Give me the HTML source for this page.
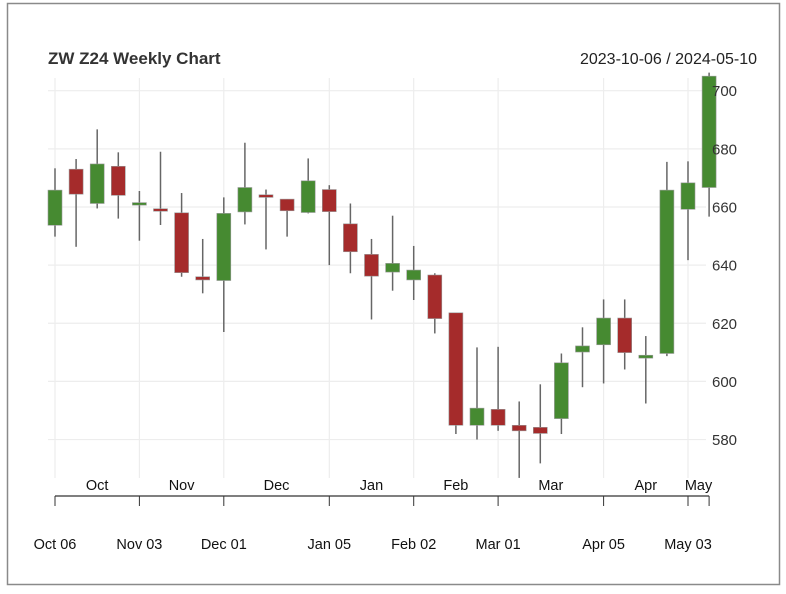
<!DOCTYPE html>
<html><head><meta charset="utf-8"><style>
body{margin:0;background:#fff;}
svg{display:block;font-family:"Liberation Sans",sans-serif;}
</style></head><body>
<svg id="chart" width="786" height="594" viewBox="0 0 786 594" xmlns="http://www.w3.org/2000/svg">
<rect x="7.5" y="3.5" width="772" height="581" fill="#fff" stroke="#8a8a8a" stroke-width="1.5"/>
<text x="48" y="64" font-size="17" font-weight="bold" fill="#333">ZW Z24 Weekly Chart</text>
<text x="757" y="64" font-size="16" fill="#222" text-anchor="end">2023-10-06 / 2024-05-10</text>
<g id="grid"></g><g id="candles"></g><g id="axes"></g>
</svg>
<script>
const opens  = [653.7,673,661.2,674,661,659.4,658,636,634.7,658.3,664.2,662.7,658.1,666,654.2,643.7,637.6,634.9,636.6,623.6,584.9,590.4,584.9,584.2,587.2,610.1,612.6,621.8,608,609.6,659.2,666.7];
const highs  = [673.3,676.5,686.7,678.8,665.5,679,664.8,649,663.3,682.1,666,662.7,676.7,667.5,661.2,649,657,646.6,637.2,623.6,611.7,611.9,593.1,599,609.6,618.6,628.2,628.2,615.6,675.5,675.7,706.2];
const lows   = [649.8,646.3,659.5,656,648.4,653.8,636,630.3,617,654,645.4,649.8,657.8,640,637.2,621.3,631.2,628,616.5,581.9,580,583,566.8,571.8,581.9,598,599.3,604.1,592.4,608.7,641.7,656.7];
const closes = [665.8,664.4,674.8,664,661.5,658.8,637.4,634.9,657.8,666.7,663.3,658.7,669,658.4,644.6,636.2,640.6,638.3,621.6,584.9,590.8,584.9,583,582.1,606.4,612.2,621.8,609.9,609,665.8,668.3,705];
const yTicks = [580,600,620,640,660,680,700];
const dateTickIdx = [0,4,8,13,17,21,26,30];
const dateTickLabels = ["Oct 06","Nov 03","Dec 01","Jan 05","Feb 02","Mar 01","Apr 05","May 03"];
const monthLabels = ["Oct","Nov","Dec","Jan","Feb","Mar","Apr","May"];
const monthPos = [2,6,10.5,15,19,23.5,28,30.5];

const NS="http://www.w3.org/2000/svg";
const X0=55, STEP=21.1;
function xs(i){return X0+i*STEP;}
function ys(v){return 90.7+(700-v)*2.907;}
function mk(tag,attrs,parent){const e=document.createElementNS(NS,tag);for(const k in attrs)e.setAttribute(k,attrs[k]);parent.appendChild(e);return e;}
const grid=document.getElementById('grid'),cg=document.getElementById('candles'),ax=document.getElementById('axes');
yTicks.forEach(v=>{
  const l=mk('line',{x1:48,x2:706,y1:ys(v),y2:ys(v),stroke:'#ededed','stroke-width':1.2},grid);
  
  
  const t=mk('text',{x:712,y:ys(v)+5.5,'font-size':15,fill:'#333'},ax);
  t.textContent=v;
  
  
});
dateTickIdx.forEach((i,k)=>{
  const l=mk('line',{x1:xs(i),x2:xs(i),y1:78,y2:478,stroke:'#ededed','stroke-width':1.2},grid);
  
  
  const tk=mk('line',{x1:xs(i),x2:xs(i),y1:496,y2:506,stroke:'#333','stroke-width':1},ax);
  
  
  const t=mk('text',{x:xs(i),y:549,'font-size':14.5,fill:'#111','text-anchor':'middle'},ax);
  t.textContent=dateTickLabels[k];
  
  
});
const endTick=mk('line',{x1:xs(31),x2:xs(31),y1:496,y2:506,stroke:'#333','stroke-width':1},ax);


const axl=mk('line',{x1:xs(0),x2:xs(31),y1:496,y2:496,stroke:'#333','stroke-width':1.2},ax);


monthLabels.forEach((m,k)=>{
  const t=mk('text',{x:xs(monthPos[k]),y:490,'font-size':14.5,fill:'#111','text-anchor':'middle'},ax);
  t.textContent=m;
  
  
});
opens.forEach((o,i)=>{
  const c=closes[i],up=c>=o,x=xs(i);
  const g=mk('g',{},cg);
  
  
  mk('line',{x1:x,x2:x,y1:ys(highs[i]),y2:ys(lows[i]),stroke:'#666','stroke-width':1.5},g);
  const top=ys(Math.max(o,c)),bot=ys(Math.min(o,c));
  mk('rect',{x:x-7,y:top,width:14,height:Math.max(bot-top,2.5),fill:up?'#468a31':'#a52b2b',stroke:'#9a9a9a','stroke-width':0.6},g);
});
</script>
</body></html>
